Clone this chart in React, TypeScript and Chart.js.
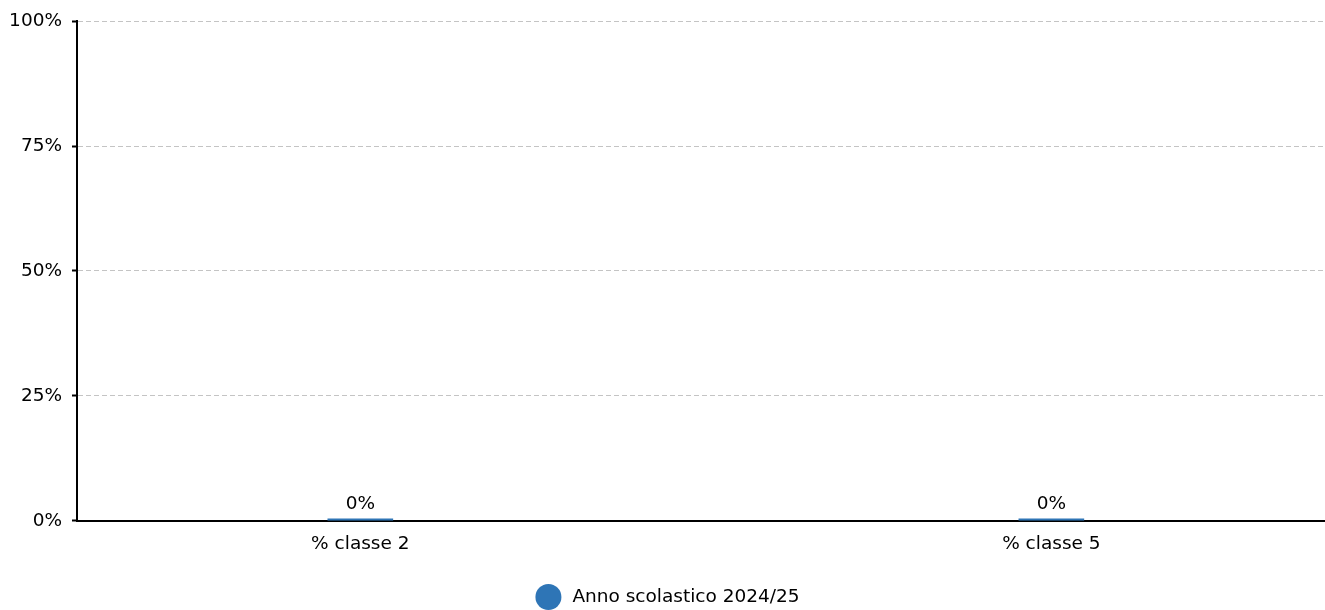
import React, { useEffect, useRef } from "react";
import { Chart, registerables } from "chart.js";

Chart.register(...registerables);

const categories = ["% classe 2", "% classe 5"];
const seriesLabel = "Anno scolastico 2024/25";
const seriesValues = [0, 0];
const yTicks = [0, 25, 50, 75, 100];

const FONT = "'DejaVu Sans', sans-serif";
const FS = 18.5;
const BLUE = "#2e75b6";

const dataLabelPlugin = {
  id: "dataLabels",
  afterDatasetsDraw(chart: any) {
    const ctx = chart.ctx;
    ctx.save();
    ctx.font = `${FS}px ${FONT}`;
    ctx.fillStyle = "#000";
    ctx.textAlign = "center";
    ctx.textBaseline = "bottom";
    chart.data.datasets.forEach((ds: any, di: number) => {
      const meta = chart.getDatasetMeta(di);
      meta.data.forEach((el: any, i: number) => {
        const v = ds.data[i].y;
        ctx.fillText(`${v}%`, el.x, el.y - 5);
      });
    });
    ctx.restore();
  },
};

const legendPlugin = {
  id: "customLegend",
  afterDraw(chart: any) {
    const ctx = chart.ctx;
    const ds = chart.data.datasets[0];
    ctx.save();
    ctx.font = `${FS}px ${FONT}`;
    const r = 13;
    const gap = 11;
    const tw = ctx.measureText(ds.label).width;
    const total = 2 * r + gap + tw;
    const x0 = chart.width / 2 + 5 - total / 2;
    const cy = chart.height - 13;
    ctx.fillStyle = ds.backgroundColor;
    ctx.beginPath();
    ctx.arc(x0 + r, cy, r, 0, Math.PI * 2);
    ctx.fill();
    ctx.fillStyle = "#000";
    ctx.textAlign = "left";
    ctx.textBaseline = "middle";
    ctx.fillText(ds.label, x0 + 2 * r + gap, cy);
    ctx.restore();
  },
};

export default function App() {
  const ref = useRef<HTMLCanvasElement>(null);
  useEffect(() => {
    document.body.style.margin = "0";
    const chart = new Chart(ref.current!, {
      type: "bar",
      data: {
        datasets: [
          {
            label: seriesLabel,
            data: seriesValues.map((v, i) => ({ x: i, y: v })),
            backgroundColor: BLUE,
            borderWidth: 0,
            barThickness: 65,
            minBarLength: 2,
          } as any,
        ],
      },
      options: {
        animation: false,
        responsive: true,
        maintainAspectRatio: false,
        layout: { padding: { top: 17, right: 0, left: 0, bottom: 43 } },
        font: { family: FONT, size: FS },
        plugins: {
          tooltip: { enabled: false },
          legend: { display: false },
        },
        scales: {
          x: {
            type: "linear",
            offset: false,
            min: -0.41,
            max: 1.396,
            afterBuildTicks: (scale: any) => {
              scale.ticks = categories.map((_, i) => ({ value: i }));
            },
            ticks: {
              color: "#000",
              font: { family: FONT, size: FS },
              padding: 12,
              maxRotation: 0,
              autoSkip: false,
              callback: (v: any) => categories[v] ?? "",
            },
            grid: { display: false, drawTicks: false, offset: false },
            border: { display: true, color: "#000", width: 2 },
          },
          y: {
            min: 0,
            max: 100,
            afterBuildTicks: (scale: any) => {
              scale.ticks = yTicks.map((v) => ({ value: v }));
            },
            afterFit: (scale: any) => {
              scale.width = 77;
            },
            ticks: {
              color: "#000",
              font: { family: FONT, size: FS },
              padding: 10,
              callback: (v: any) => `${v}%`,
            },
            grid: {
              color: "#c4c4c4",
              lineWidth: 1,
              tickColor: "#000",
              tickLength: 5,
              tickWidth: 2,
              tickBorderDash: [],
            } as any,
            border: { display: true, color: "#000", width: 2, dash: [5, 3] } as any,
          },
        },
      },
      plugins: [dataLabelPlugin, legendPlugin],
    });
    return () => chart.destroy();
  }, []);
  return (
    <div style={{ width: 1325, height: 610, position: "relative" }}>
      <canvas ref={ref} />
    </div>
  );
}
